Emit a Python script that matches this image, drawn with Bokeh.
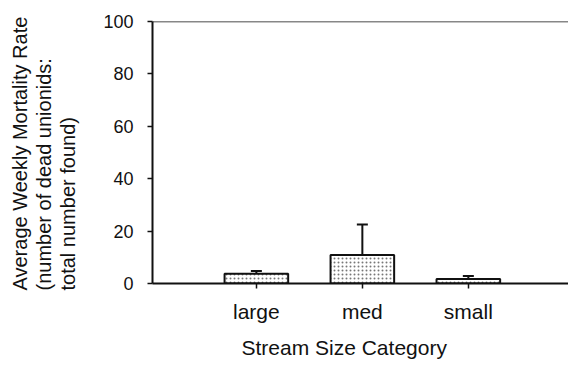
from bokeh.plotting import figure
from bokeh.models import (ColumnDataSource, FixedTicker, Title, Span, Whisker, TeeHead)
from bokeh.embed import file_html
from bokeh.resources import INLINE

# Stream size categories and weekly mortality (mean and one-sided error)
categories = ["large", "med", "small"]
mean_rate = [3.7, 10.9, 1.7]
error_rate = [1.1, 11.6, 1.2]
y_ticks = [0, 20, 40, 60, 80, 100]

positions = list(range(1, len(categories) + 1))
upper = [m + e for m, e in zip(mean_rate, error_rate)]

src = ColumnDataSource(dict(x=positions, top=mean_rate, lower=mean_rate, upper=upper))

FONT = "Liberation Sans"
INK = "#111111"
X0, X1 = 0.02, 3.945

p = figure(width=568, height=367, output_backend="svg", toolbar_location=None,
           x_range=(X0, X1), y_range=(0, 100),
           min_border_left=152, min_border_right=0, min_border_top=21, min_border_bottom=84)
p.outline_line_color = None
p.grid.visible = False
p.background_fill_color = "white"
p.border_fill_color = "white"

# bars with a light stipple fill
p.vbar(x="x", top="top", width=0.6, source=src, fill_color="white",
       hatch_pattern=".", hatch_color="#777777", hatch_scale=4, hatch_weight=1,
       line_color=INK, line_width=2)

# upper error bars
p.add_layout(Whisker(source=src, base="x", lower="lower", upper="upper", dimension="height",
                     line_color=INK, line_width=2, lower_head=None,
                     upper_head=TeeHead(size=11, line_color=INK, line_width=2)))

# top border line
p.add_layout(Span(location=100, dimension="width", line_color=INK, line_width=1.5))

xa = p.xaxis[0]
xa.ticker = FixedTicker(ticks=positions)
xa.major_label_overrides = {pos: c for pos, c in zip(positions, categories)}
xa.major_label_text_font = FONT
xa.major_label_text_font_size = "21px"
xa.major_label_text_color = INK
xa.major_label_standoff = 11
xa.minor_tick_line_color = None
xa.major_tick_in = 0
xa.major_tick_out = 5
xa.major_tick_line_width = 1.5
xa.major_tick_line_color = INK
xa.axis_line_width = 2
xa.axis_line_color = INK

# x axis title, set slightly left of the frame centre
p.add_layout(Title(text="Stream Size Category", align="left", offset=89, standoff=17,
                   text_font=FONT, text_font_size="21px", text_font_style="normal",
                   text_color=INK), "below")

ya = p.yaxis[0]
ya.ticker = FixedTicker(ticks=y_ticks)
ya.major_label_text_font = FONT
ya.major_label_text_font_size = "18px"
ya.major_label_text_color = INK
ya.major_label_standoff = 14
ya.minor_tick_line_color = None
ya.major_tick_in = 0
ya.major_tick_out = 5
ya.major_tick_line_width = 1.5
ya.major_tick_line_color = INK
ya.axis_line_width = 2
ya.axis_line_color = INK

# blank spacer between the tick labels and the y title
p.add_layout(Title(text=" ", standoff=0, text_font=FONT, text_font_size="18px"), "left")

# three-line rotated y title, lines aligned at their start (bottom)
title_lines = ["Average Weekly Mortality Rate",
               "(number of dead unionids:",
               "total number found)"]
for txt in reversed(title_lines):
    p.add_layout(Title(text=txt, align="left", offset=-7, standoff=0,
                       text_font=FONT, text_font_size="20px", text_font_style="normal",
                       text_color=INK), "left")

open("out.html", "w").write(file_html(p, INLINE))
